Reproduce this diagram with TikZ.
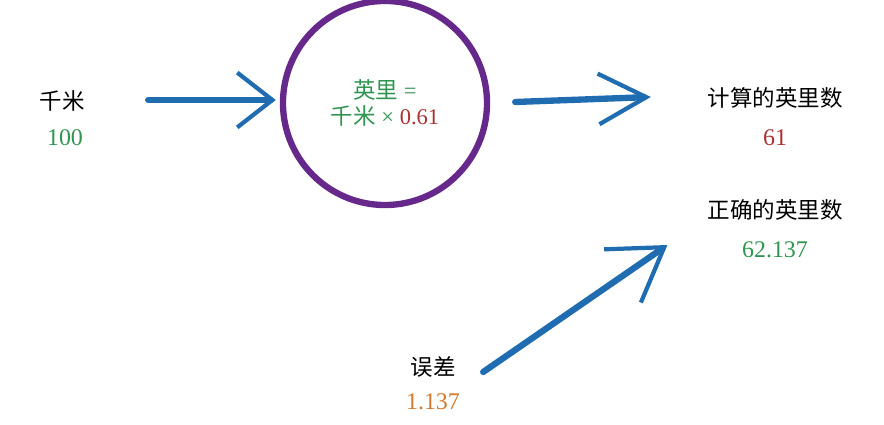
\documentclass[tikz,border=0pt]{standalone}
\usepackage{fontspec}
\setmainfont{Liberation Serif}
\newfontfamily\cjk{Noto Sans CJK SC}
\usetikzlibrary{arrows.meta}
\definecolor{penblue}{HTML}{1F6DB0}
\definecolor{ringpurple}{HTML}{66288A}
\definecolor{numgreen}{HTML}{2E9550}
\definecolor{numred}{HTML}{A8322E}
\definecolor{numorange}{HTML}{D27A2E}
\tikzset{
	lbl/.style={font=\cjk\fontsize{16}{19}\selectfont,inner sep=1pt},
	val/.style={font=\fontsize{17}{20}\selectfont,inner sep=1pt},
	ring/.style={circle,draw=ringpurple,line width=4.5pt,minimum size=5.1cm,align=center,font=\fontsize{16}{18}\selectfont},
	brush/.style={draw=penblue,line width=4.5pt,line cap=round},
}

\begin{document}
\begin{tikzpicture}[x=0.025cm,y=-0.025cm]
		\useasboundingbox (0,0) rectangle (884,425); % picture size in pixels
		\node[lbl] (km) at (62,101) {千米};
		\node[val,text=numgreen] (kmnum) at (65,138) {100};
		\node[ring] (conv) at (385,103) {\textcolor{numgreen}{{\cjk 英里} =}\\\textcolor{numgreen}{{\cjk 千米} ×} \textcolor{numred}{0.61}};
		\node[lbl] (calc) at (775,98) {计算的英里数};
		\node[val,text=numred] (calcnum) at (775,138) {61};
		\node[lbl] (true) at (775,210) {正确的英里数};
		\node[val,text=numgreen] (truenum) at (775,250) {62.137};
		\node[lbl] (err) at (433,367) {误差};
		\node[val,text=numorange] (errnum) at (433,402) {1.137};
		% the three arrows
		\draw[brush,-{Straight Barb[length=25pt,width=39pt,line width=3pt]}] ([shift={(62,-1)}]km.east) -- ([shift={(-4,-3)}]conv.west);
		\draw[brush,-{Straight Barb[length=34pt,width=36pt,line width=3pt]}] ([shift={(25,-1)}]conv.east) -- ([shift={(-55,-1)}]calc.west);
		\draw[brush,-{Straight Barb[length=36pt,width=46pt,line width=3pt]}] ([shift={(26,5)}]err.east) -- ([shift={(-73,-5)}]truenum.west);
\end{tikzpicture}
\end{document}
